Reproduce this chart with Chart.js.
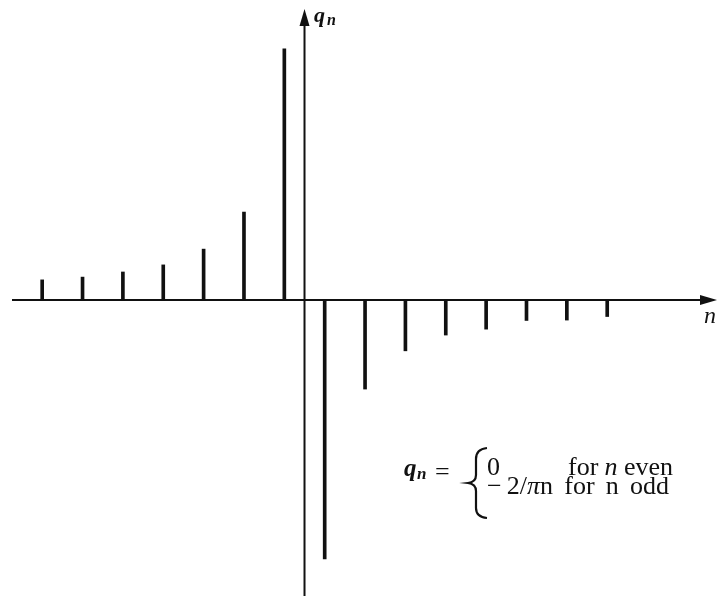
<!DOCTYPE html>
<html>
<head>
<meta charset="utf-8">
<script src="https://cdn.jsdelivr.net/npm/chart.js@4.4.1/dist/chart.umd.min.js"></script>
<style>
  body { margin: 0; background: #fff; }
  canvas { display: block; }
</style>
</head>
<body>
<canvas id="stems" width="718" height="596"></canvas>
<script>
// n values (odd only) and q_n
const nValues = [-13, -11, -9, -7, -5, -3, -1, 1, 3, 5, 7, 9, 11, 13, 15];
const qValues = [0.051, 0.058, 0.071, 0.089, 0.129, 0.223, 0.637,
  -0.657, -0.226, -0.129, -0.089, -0.074, -0.052, -0.051, -0.042];

const ink = "#111";
const serif = "'Liberation Serif', 'DejaVu Serif', serif";

// words (each a list of [text, italic]) laid out from x0 to x1, extra room goes between words
function spreadWords(ctx, words, x0, x1, y, size) {
  const setFont = (it) => { ctx.font = (it ? "italic " : "") + size + "px " + serif; };
  const widths = words.map((w) => w.reduce((s, [t, it]) => { setFont(it); return s + ctx.measureText(t).width; }, 0));
  const total = widths.reduce((a, b) => a + b, 0);
  const gap = (x1 - x0 - total) / (words.length - 1);
  let x = x0;
  words.forEach((w, i) => {
    let cx = x;
    w.forEach(([t, it]) => {
      setFont(it);
      ctx.fillText(t, cx, y);
      cx += ctx.measureText(t).width;
    });
    x += widths[i] + gap;
  });
}

//axes with arrows + labels + formula
const axesPlugin = {
  id: "axes",
  beforeDatasetsDraw(chart) {
    const ctx = chart.ctx;
    const xs = chart.scales.x;
    const ys = chart.scales.y;
    const x0 = xs.getPixelForValue(0);
    const y0 = ys.getPixelForValue(0);
    ctx.save();
    ctx.strokeStyle = ink;
    ctx.fillStyle = ink;
    ctx.lineWidth = 2;
    // horizontal axis
    ctx.beginPath();
    ctx.moveTo(12, y0);
    ctx.lineTo(705, y0);
    ctx.stroke();
    ctx.beginPath();
    ctx.moveTo(717, y0);
    ctx.lineTo(700, y0 - 5);
    ctx.lineTo(700, y0 + 5);
    ctx.closePath();
    ctx.fill();
    // vertical axis
    ctx.beginPath();
    ctx.moveTo(x0, chart.height);
    ctx.lineTo(x0, 20);
    ctx.stroke();
    ctx.beginPath();
    ctx.moveTo(x0, 9);
    ctx.lineTo(x0 - 5, 26);
    ctx.lineTo(x0 + 5, 26);
    ctx.closePath();
    ctx.fill();
    ctx.restore();
  },
  afterDatasetsDraw(chart) {
    const ctx = chart.ctx;
    ctx.save();
    ctx.fillStyle = ink;
    ctx.strokeStyle = ink;
    ctx.textBaseline = "alphabetic";
    // axis labels
    ctx.font = "italic bold 22px " + serif;
    ctx.fillText("q", 314, 22);
    ctx.font = "italic bold 16px " + serif;
    ctx.fillText("n", 327, 25);
    ctx.font = "italic 24px " + serif;
    ctx.fillText("n", 704, 323);

    // formula
    ctx.font = "italic bold 25px " + serif;
    ctx.fillText("q", 404, 476);
    ctx.font = "italic bold 17px " + serif;
    ctx.fillText("n", 417, 479);
    ctx.font = "26px " + serif;
    ctx.fillText("=", 435, 480);

    // brace
    ctx.lineWidth = 2.2;
    ctx.beginPath();
    ctx.moveTo(487, 448);
    ctx.quadraticCurveTo(476, 449, 476, 459);
    ctx.lineTo(476, 475);
    ctx.quadraticCurveTo(476, 482, 468, 483);
    ctx.quadraticCurveTo(476, 484, 476, 491);
    ctx.lineTo(476, 508);
    ctx.quadraticCurveTo(476, 517, 487, 518);
    ctx.stroke();

    ctx.font = "26px " + serif;
    ctx.fillText("0", 487, 475);
    spreadWords(ctx, [[["for", false]], [["n", true]], [["even", false]]], 568, 673, 475, 26);
    spreadWords(ctx, [
      [["\u2212\u20092/", false], ["\u03c0", true], ["n", false]],
      [["for", false]],
      [["n", false]],
      [["odd", false]],
    ], 487, 669, 494, 26);
    ctx.restore();
  }
};

const points = nValues.map((n, i) => ({ x: n, y: qValues[i] }));

new Chart(document.getElementById("stems"), {
  type: "bar",
  plugins: [axesPlugin],
  data: {
    datasets: [
      {
        data: points,
        backgroundColor: ink,
        borderWidth: 0,
        barThickness: 3,
      },
    ],
  },
  options: {
    responsive: false,
    animation: false,
    layout: { padding: 0 },
    plugins: {
      legend: { display: false },
      tooltip: { enabled: false },
    },
    scales: {
      x: { type: "linear", offset: false, min: -15.09, max: 20.49, display: false },
      y: { min: -0.751, max: 0.761, display: false },
    },
  },
});
</script>
</body>
</html>
